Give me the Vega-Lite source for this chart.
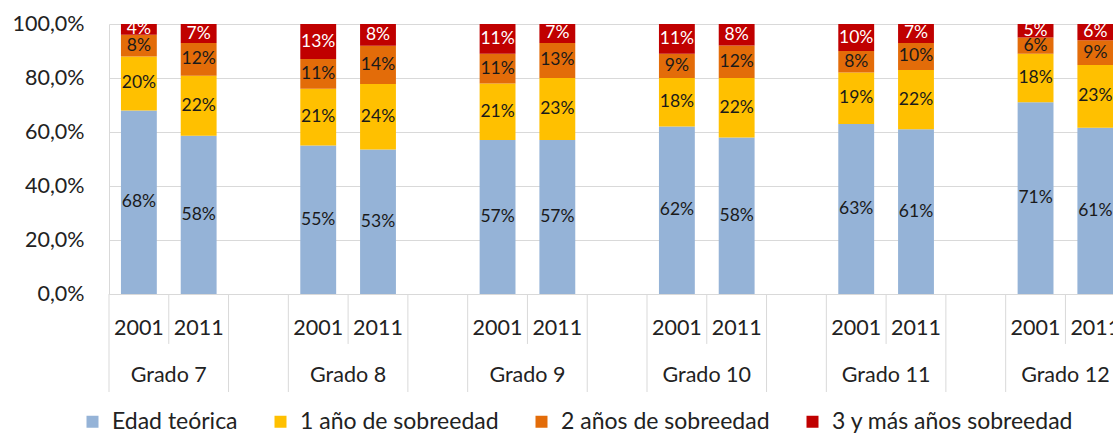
{
  "$schema": "https://vega.github.io/schema/vega-lite/v6.json",
  "width": 1004,
  "height": 270,
  "autosize": {"type": "none"},
  "padding": {"left": 109, "top": 24, "right": 0, "bottom": 140},
  "background": "white",
  "config": {
    "font": "Lato",
    "view": {"stroke": null},
    "axis": {"labelFont": "Lato", "labelColor": "#222222"}
  },
  "data": {
    "values": [
      {"grado": "Grado 7", "year": "2001", "cat": "Edad teórica", "pct": 68},
      {"grado": "Grado 7", "year": "2001", "cat": "1 año de sobreedad", "pct": 20},
      {"grado": "Grado 7", "year": "2001", "cat": "2 años de sobreedad", "pct": 8},
      {"grado": "Grado 7", "year": "2001", "cat": "3 y más años sobreedad", "pct": 4},
      {"grado": "Grado 7", "year": "2011", "cat": "Edad teórica", "pct": 58},
      {"grado": "Grado 7", "year": "2011", "cat": "1 año de sobreedad", "pct": 22},
      {"grado": "Grado 7", "year": "2011", "cat": "2 años de sobreedad", "pct": 12},
      {"grado": "Grado 7", "year": "2011", "cat": "3 y más años sobreedad", "pct": 7},
      {"grado": "Grado 8", "year": "2001", "cat": "Edad teórica", "pct": 55},
      {"grado": "Grado 8", "year": "2001", "cat": "1 año de sobreedad", "pct": 21},
      {"grado": "Grado 8", "year": "2001", "cat": "2 años de sobreedad", "pct": 11},
      {"grado": "Grado 8", "year": "2001", "cat": "3 y más años sobreedad", "pct": 13},
      {"grado": "Grado 8", "year": "2011", "cat": "Edad teórica", "pct": 53},
      {"grado": "Grado 8", "year": "2011", "cat": "1 año de sobreedad", "pct": 24},
      {"grado": "Grado 8", "year": "2011", "cat": "2 años de sobreedad", "pct": 14},
      {"grado": "Grado 8", "year": "2011", "cat": "3 y más años sobreedad", "pct": 8},
      {"grado": "Grado 9", "year": "2001", "cat": "Edad teórica", "pct": 57},
      {"grado": "Grado 9", "year": "2001", "cat": "1 año de sobreedad", "pct": 21},
      {"grado": "Grado 9", "year": "2001", "cat": "2 años de sobreedad", "pct": 11},
      {"grado": "Grado 9", "year": "2001", "cat": "3 y más años sobreedad", "pct": 11},
      {"grado": "Grado 9", "year": "2011", "cat": "Edad teórica", "pct": 57},
      {"grado": "Grado 9", "year": "2011", "cat": "1 año de sobreedad", "pct": 23},
      {"grado": "Grado 9", "year": "2011", "cat": "2 años de sobreedad", "pct": 13},
      {"grado": "Grado 9", "year": "2011", "cat": "3 y más años sobreedad", "pct": 7},
      {"grado": "Grado 10", "year": "2001", "cat": "Edad teórica", "pct": 62},
      {"grado": "Grado 10", "year": "2001", "cat": "1 año de sobreedad", "pct": 18},
      {"grado": "Grado 10", "year": "2001", "cat": "2 años de sobreedad", "pct": 9},
      {"grado": "Grado 10", "year": "2001", "cat": "3 y más años sobreedad", "pct": 11},
      {"grado": "Grado 10", "year": "2011", "cat": "Edad teórica", "pct": 58},
      {"grado": "Grado 10", "year": "2011", "cat": "1 año de sobreedad", "pct": 22},
      {"grado": "Grado 10", "year": "2011", "cat": "2 años de sobreedad", "pct": 12},
      {"grado": "Grado 10", "year": "2011", "cat": "3 y más años sobreedad", "pct": 8},
      {"grado": "Grado 11", "year": "2001", "cat": "Edad teórica", "pct": 63},
      {"grado": "Grado 11", "year": "2001", "cat": "1 año de sobreedad", "pct": 19},
      {"grado": "Grado 11", "year": "2001", "cat": "2 años de sobreedad", "pct": 8},
      {"grado": "Grado 11", "year": "2001", "cat": "3 y más años sobreedad", "pct": 10},
      {"grado": "Grado 11", "year": "2011", "cat": "Edad teórica", "pct": 61},
      {"grado": "Grado 11", "year": "2011", "cat": "1 año de sobreedad", "pct": 22},
      {"grado": "Grado 11", "year": "2011", "cat": "2 años de sobreedad", "pct": 10},
      {"grado": "Grado 11", "year": "2011", "cat": "3 y más años sobreedad", "pct": 7},
      {"grado": "Grado 12", "year": "2001", "cat": "Edad teórica", "pct": 71},
      {"grado": "Grado 12", "year": "2001", "cat": "1 año de sobreedad", "pct": 18},
      {"grado": "Grado 12", "year": "2001", "cat": "2 años de sobreedad", "pct": 6},
      {"grado": "Grado 12", "year": "2001", "cat": "3 y más años sobreedad", "pct": 5},
      {"grado": "Grado 12", "year": "2011", "cat": "Edad teórica", "pct": 61},
      {"grado": "Grado 12", "year": "2011", "cat": "1 año de sobreedad", "pct": 23},
      {"grado": "Grado 12", "year": "2011", "cat": "2 años de sobreedad", "pct": 9},
      {"grado": "Grado 12", "year": "2011", "cat": "3 y más años sobreedad", "pct": 6}
    ]
  },
  "transform": [
    {"calculate": "datum.grado + '|' + datum.year", "as": "slot"},
    {"calculate": "indexof(['Edad teórica','1 año de sobreedad','2 años de sobreedad','3 y más años sobreedad'], datum.cat)", "as": "k"},
    {"calculate": "datum.pct + '%'", "as": "label"}
  ],
  "layer": [
    {
      "mark": {"type": "bar", "width": {"band": 0.6}},
      "encoding": {
        "x": {
          "field": "slot", "type": "ordinal",
          "scale": {
            "type": "band", "paddingInner": 0, "paddingOuter": 0, "range": [0, 1076],
            "domain": ["Grado 7|2001", "Grado 7|2011", "Grado 7|", "Grado 8|2001", "Grado 8|2011", "Grado 8|", "Grado 9|2001", "Grado 9|2011", "Grado 9|", "Grado 10|2001", "Grado 10|2011", "Grado 10|", "Grado 11|2001", "Grado 11|2011", "Grado 11|", "Grado 12|2001", "Grado 12|2011", "Grado 12|"]
          },
          "axis": {
            "title": null, "ticks": false, "tickSize": 0, "grid": false,
            "domain": true, "domainColor": "#D9D9D9", "domainWidth": 1,
            "labelExpr": "split(datum.label, '|')[1]",
            "labelAngle": 0, "labelBaseline": "middle", "labelPadding": 34,
            "labelFontSize": 21.5, "labelColor": "#222222", "labelFont": "Lato"
          }
        },
        "y": {
          "field": "pct", "type": "quantitative", "stack": "normalize",
          "scale": {"domain": [0, 1]},
          "axis": {
            "title": null, "ticks": false, "domain": true, "domainColor": "#D9D9D9",
            "grid": true, "gridColor": "#D9D9D9", "gridWidth": 1,
            "values": [0, 0.2, 0.4, 0.6, 0.8, 1],
            "labelExpr": "replace(format(datum.value, '.1%'), '.', ',')",
            "labelPadding": 25, "labelFontSize": 21.5, "labelColor": "#222222", "labelFont": "Lato"
          }
        },
        "color": {
          "field": "cat", "type": "nominal",
          "scale": {
            "domain": ["Edad teórica", "1 año de sobreedad", "2 años de sobreedad", "3 y más años sobreedad"],
            "range": ["#95B3D7", "#FFC000", "#E36C09", "#C00000"]
          },
          "legend": {
            "orient": "none", "legendX": -28, "legendY": 386, "direction": "horizontal", "columns": 4,
            "title": null, "symbolType": "square", "symbolSize": 144, "symbolStrokeWidth": 0,
            "labelFontSize": 23, "labelFont": "Lato", "labelColor": "#222222",
            "columnPadding": 31, "labelOffset": 8, "padding": 0, "labelLimit": 400
          }
        },
        "order": {"field": "k", "type": "quantitative"}
      }
    },
    {
      "mark": {"type": "text", "fontSize": 17.5, "font": "Lato", "baseline": "middle", "align": "center"},
      "encoding": {
        "x": {"field": "slot", "type": "ordinal"},
        "y": {"field": "pct", "type": "quantitative", "stack": "normalize", "bandPosition": 0.5},
        "detail": {"field": "cat"},
        "order": {"field": "k", "type": "quantitative"},
        "text": {"field": "label"},
        "color": {"condition": {"test": "datum.k == 3", "value": "#FFFFFF"}, "value": "#1A1A1A"}
      }
    },
    {
      "transform": [{"filter": "datum.k == 0 && datum.year == '2001'"}],
      "mark": {"type": "rule", "color": "#D9D9D9", "strokeWidth": 1},
      "encoding": {
        "x": {"field": "slot", "type": "ordinal", "bandPosition": 0},
        "y": {"datum": 0},
        "y2": {"datum": -0.363}
      }
    },
    {
      "transform": [{"filter": "datum.k == 0 && datum.year == '2011'"}],
      "mark": {"type": "rule", "color": "#D9D9D9", "strokeWidth": 1},
      "encoding": {
        "x": {"field": "slot", "type": "ordinal", "bandPosition": 1},
        "y": {"datum": 0},
        "y2": {"datum": -0.363}
      }
    },
    {
      "transform": [{"filter": "datum.k == 0 && datum.year == '2011'"}],
      "mark": {"type": "rule", "color": "#D9D9D9", "strokeWidth": 1},
      "encoding": {
        "x": {"field": "slot", "type": "ordinal", "bandPosition": 0},
        "y": {"datum": 0},
        "y2": {"datum": -0.185}
      }
    },
    {
      "transform": [{"filter": "datum.k == 0 && datum.year == '2011'"}],
      "mark": {"type": "text", "fontSize": 21.5, "font": "Lato", "baseline": "middle", "align": "center", "color": "#222222"},
      "encoding": {
        "x": {"field": "slot", "type": "ordinal", "bandPosition": 0},
        "y": {"datum": -0.302},
        "text": {"field": "grado"}
      }
    }
  ]
}
